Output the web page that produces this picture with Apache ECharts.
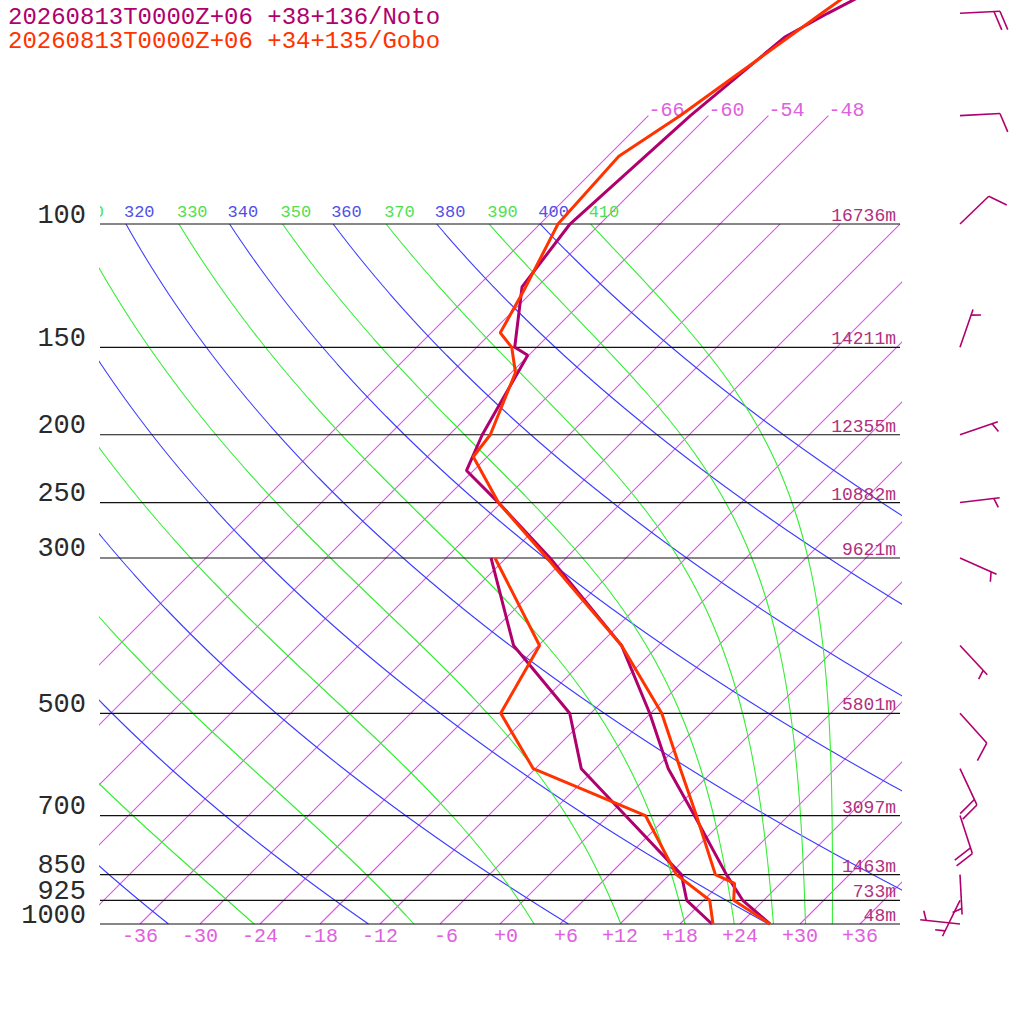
<!DOCTYPE html>
<html><head><meta charset="utf-8">
<script src="https://cdn.jsdelivr.net/npm/echarts@6/dist/echarts.min.js"></script>
<style>html,body{margin:0;padding:0;background:#fff}#c{width:1024px;height:1024px}</style>
</head><body><div id="c"></div>
<script>
// ---------- data ----------
const legendTexts = ['20260813T0000Z+06 +38+136/Noto', '20260813T0000Z+06 +34+135/Gobo'];
const pressureLevels = [1000, 925, 850, 700, 500, 300, 250, 200, 150, 100];
const heightLabels = ['48m', '733m', '1463m', '3097m', '5801m', '9621m', '10882m', '12355m', '14211m', '16736m'];
const isotherms = [-66,-60,-54,-48,-42,-36,-30,-24,-18,-12,-6,0,6,12,18,24,30,36];
const topIsotherms = [-66, -60, -54, -48];
const bottomTempLabels = [-36,-30,-24,-18,-12,-6,0,6,12,18,24,30,36];
const dryThetas = [240, 260, 280, 300, 320, 340, 360, 380, 400];
const moistThetaEs = [250, 270, 290, 310, 330, 350, 370, 390, 410];
const thetaLabels = [310, 320, 330, 340, 350, 360, 370, 380, 390, 400, 410];

// Noto sounding
const notoTP = [1000, 925, 850, 700, 600, 500, 400, 300, 250, 225, 200, 154, 150, 123, 100, 70, 54, 50, 40];
const notoT  = [27.0, 21.9, 17.7, 8.6, 1.3, -6.1, -15.7, -31.6, -42.3, -48.7, -50.7, -54.1, -56.2, -61.5, -63.0, -61.8, -60.2, -58.3, -52.0];
const notoDP = [1000, 925, 850, 700, 600, 500, 400, 300];
const notoTd = [21.2, 16.3, 13.2, 1.7, -7.4, -14.1, -26.5, -37.5];
// Gobo sounding
const goboTP = [1000, 925, 875, 850, 700, 600, 500, 400, 300, 250, 215, 200, 163, 150, 143, 125, 100, 80, 70, 50, 40];
const goboT  = [27.0, 21.0, 19.4, 16.6, 8.8, 2.5, -4.9, -15.7, -31.9, -42.3, -49.4, -49.9, -53.6, -56.5, -59.1, -60.9, -64.2, -64.9, -62.8, -58.9, -56.2];
const goboDP = [1000, 925, 850, 700, 600, 500, 400, 300];
const goboTd = [21.3, 18.6, 12.7, 3.7, -12.2, -21.0, -23.9, -37.1];
// Noto winds (direction deg, speed)
const windP   = [1000, 925, 850, 700, 600, 500, 400, 300, 250, 200, 150, 100, 70, 50];
const windDir = [276, 206, 177, 162, 155, 138, 137, 114, 83, 71, 19, 46, 87, 87];
const windSpd = [5, 5, 5, 20, 20, 10, 5, 5, 5, 5, 5, 10, 10, 20];

// ---------- styles ----------
const NOTO = '#b0006e', GOBO = '#ff3300';
const ISOCOL = 'rgb(222,84,236)', DRY = '#3c3cff', MOIST = '#33ee33';
const MONO = '"Liberation Mono", "DejaVu Sans Mono", monospace';
const SKEW = 30.4;                 // degrees of x-shift per unit ln(1000/p)
const LTOP = 924 / 304;            // top of plot in ln(1000/p)

const Lof = p => Math.log(1000 / p);
const toXY = (T, p) => { const L = Lof(p); return [T + SKEW * L, L]; };

function es(Tc) { return 6.112 * Math.exp(17.67 * Tc / (Tc + 243.5)); }
function thetaE(Tk, p) {
  const e = es(Tk - 273.15);
  if (e >= p * 0.6) return 1e9;
  const r = 622 * e / (p - e);
  return Tk * Math.pow(1000 / p, 0.2854 * (1 - 0.00028 * r)) * Math.exp((3.376 / Tk - 0.00254) * r * (1 + 0.00081 * r));
}
function moistT(te, p) {
  let lo = 140, hi = 345;
  for (let i = 0; i < 60; i++) { const m = (lo + hi) / 2; if (thetaE(m, p) > te) hi = m; else lo = m; }
  return (lo + hi) / 2 - 273.15;
}
const NSTEP = 80;
function curve(fnT) {
  const out = [];
  for (let i = 0; i <= NSTEP; i++) {
    const L = Math.log(10) * i / NSTEP; const p = 1000 * Math.exp(-L);
    out.push([fnT(p) + SKEW * L, L]);
  }
  return out;
}
function joinCurves(list) { const d = []; list.forEach((c, i) => { if (i) d.push(['-', '-']); d.push(...c); }); return d; }

const isoData = joinCurves(isotherms.map(T => [toXY(T, 1000), toXY(T, topIsotherms.includes(T) ? 70 : 100)]));
const dryData = joinCurves(dryThetas.map(th => curve(p => th * Math.pow(p / 1000, 0.2857) - 273.15)));
const moistData = joinCurves(moistThetaEs.map(te => curve(p => moistT(te, p))));

function thetaLabelX(th) {
  if (dryThetas.includes(th)) return th * Math.pow(0.1, 0.2857) - 273.15 + SKEW * Math.log(10);
  return moistT(th, 100) + SKEW * Math.log(10);
}
const signFmt = T => ((T >= 0 ? '+' : '-') + Math.abs(T)).padStart(3, ' ');

function lineSeries(name, data, color, width, z) {
  return { name, type: 'line', data, showSymbol: false, symbol: 'none', clip: true, silent: true, z,
    color: color, itemStyle: { color: color }, lineStyle: { color: color, width: width, opacity: 1 },
    connectNulls: false, animation: false };
}
function sounding(P, T) { return P.map((p, i) => toXY(T[i], p)); }

const series = [
  lineSeries('isotherms', isoData, ISOCOL, 1.1, 1),
  lineSeries('dry', dryData, DRY, 1.1, 1),
  lineSeries('moist', moistData, MOIST, 1.1, 1),
  // pressure lines + labels + heights
  { type: 'custom', z: 2, clip: false, animation: false, silent: true,
    data: pressureLevels.map((p, i) => [0, Lof(p), i]),
    renderItem(params, api) {
      const L = api.value(1), i = api.value(2);
      const a = api.coord([-40, L]), b = api.coord([40, L]);
      return { type: 'group', children: [
        { type: 'line', shape: { x1: a[0], y1: a[1], x2: b[0], y2: b[1] }, style: { stroke: '#111', lineWidth: 1.2 } },
        { type: 'text', style: { text: String(pressureLevels[i]), x: a[0] - 14, y: a[1] - 8.5, fill: '#2a2a2a',
            font: '27px ' + MONO, align: 'right', verticalAlign: 'middle', textAlign: 'right', textVerticalAlign: 'middle' } },
        { type: 'text', style: { text: heightLabels[i], x: b[0] - 4, y: b[1] - 8, fill: '#b0307e',
            font: '18px ' + MONO, align: 'right', verticalAlign: 'middle', textAlign: 'right', textVerticalAlign: 'middle' } }
      ] };
    } },
  // theta labels at 100 hPa (clipped to plot)
  { type: 'custom', z: 2, clip: true, animation: false, silent: true,
    data: thetaLabels.map(th => [thetaLabelX(th), Math.log(10), th]),
    renderItem(params, api) {
      const pt = api.coord([api.value(0), api.value(1)]); const th = api.value(2);
      return { type: 'text', style: { text: String(th), x: pt[0] - 2, y: pt[1] - 11.5,
        fill: dryThetas.includes(th) ? '#5050e8' : '#50e050', font: '17px ' + MONO,
        align: 'left', verticalAlign: 'middle', textAlign: 'left', textVerticalAlign: 'middle' } };
    } },
  // isotherm labels at top
  { type: 'custom', z: 2, clip: false, animation: false, silent: true,
    data: topIsotherms.map(T => [...toXY(T, 70), T]),
    renderItem(params, api) {
      const pt = api.coord([api.value(0), api.value(1)]);
      return { type: 'text', style: { text: String(api.value(2)), x: pt[0], y: pt[1] - 5.5, fill: '#e060e0',
        font: '20px ' + MONO, align: 'left', verticalAlign: 'middle', textAlign: 'left', textVerticalAlign: 'middle' } };
    } },
  // bottom temperature labels
  { type: 'custom', z: 2, clip: false, animation: false, silent: true,
    data: bottomTempLabels.map(T => [...toXY(T, 1000), T]),
    renderItem(params, api) {
      const pt = api.coord([api.value(0), api.value(1)]);
      return { type: 'text', style: { text: signFmt(api.value(2)), x: pt[0], y: pt[1] + 12, fill: '#e060e0',
        font: '20px ' + MONO, align: 'center', verticalAlign: 'middle', textAlign: 'center', textVerticalAlign: 'middle' } };
    } },
  lineSeries('notoTd', sounding(notoDP, notoTd), NOTO, 3, 5),
  lineSeries('notoT', sounding(notoTP, notoT), NOTO, 3, 5),
  lineSeries('goboTd', sounding(goboDP, goboTd), GOBO, 3, 6),
  lineSeries('goboT', sounding(goboTP, goboT), GOBO, 3, 6),
  // wind barbs
  { type: 'custom', z: 6, clip: false, animation: false, silent: true,
    data: windP.map((p, i) => [0, Lof(p), windDir[i], windSpd[i]]),
    renderItem(params, api) {
      const cs = params.coordSys;
      const pt = api.coord([0, api.value(1)]);
      const bx = cs.x + cs.width + 60, by = pt[1];
      const a = api.value(2) * Math.PI / 180, spd = api.value(3);
      const ux = Math.sin(a), uy = -Math.cos(a);
      const tx = bx + ux * 40, ty = by + uy * 40;
      const r = 70 * Math.PI / 180;
      const fx = ux * Math.cos(r) - uy * Math.sin(r), fy = ux * Math.sin(r) + uy * Math.cos(r);
      const st = { stroke: NOTO, lineWidth: 1.6 };
      const ch = [{ type: 'line', shape: { x1: bx, y1: by, x2: tx, y2: ty }, style: st }];
      const full = Math.floor(spd / 10), half = (spd % 10) >= 5;
      let pos = (full === 0 && half) ? 6 : 0;
      for (let k = 0; k < full; k++) {
        const sx = tx - ux * pos, sy = ty - uy * pos;
        ch.push({ type: 'line', shape: { x1: sx, y1: sy, x2: sx + fx * 20, y2: sy + fy * 20 }, style: st });
        pos += 6;
      }
      if (half) {
        const sx = tx - ux * pos, sy = ty - uy * pos;
        ch.push({ type: 'line', shape: { x1: sx, y1: sy, x2: sx + fx * 10, y2: sy + fy * 10 }, style: st });
      }
      return { type: 'group', children: ch };
    } }
];

const chart = echarts.init(document.getElementById('c'), null, { renderer: 'svg' });
chart.setOption({
  animation: false,
  backgroundColor: '#fff',
  grid: { left: 100, top: 0, width: 800, height: 924, containLabel: false },
  xAxis: { type: 'value', min: -40, max: 40, show: false },
  yAxis: { type: 'value', min: 0, max: LTOP, show: false },
  graphic: legendTexts.map((t, i) => ({
    type: 'text', left: 8, top: 5 + i * 24, silent: true,
    style: { text: t, fill: i === 0 ? NOTO : GOBO, font: '24px ' + MONO }
  })),
  series
});
</script></body></html>
